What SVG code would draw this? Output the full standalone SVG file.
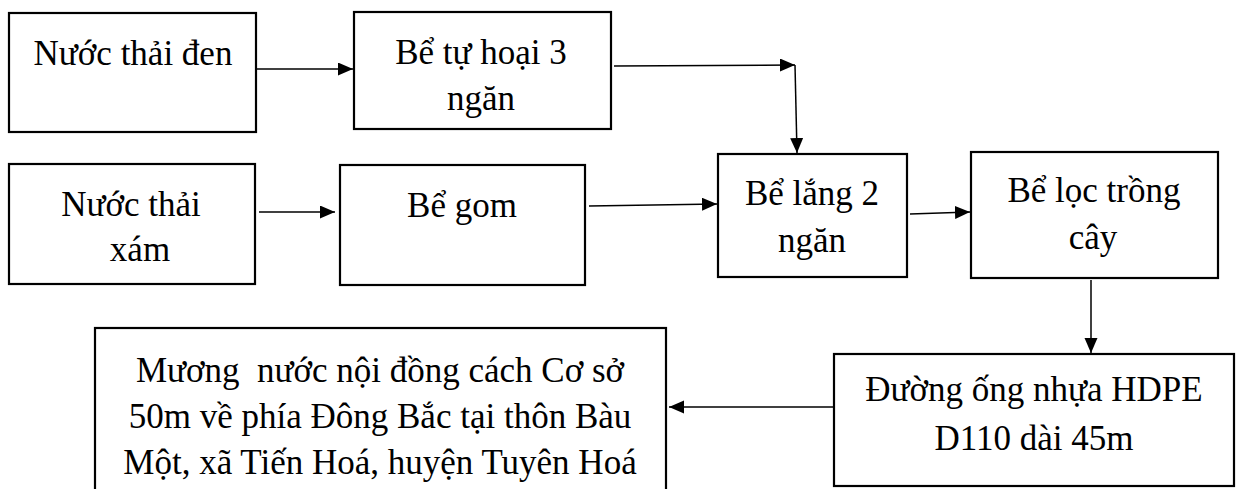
<svg xmlns="http://www.w3.org/2000/svg" width="1239" height="489" viewBox="0 0 1239 489">
<style>
.box{fill:#fff;stroke:#000;stroke-width:2.2}
.t{font-size:35px;fill:#000;text-anchor:middle}
.c{stroke:#000;stroke-width:1.5;fill:none;marker-end:url(#ah)}
</style>
<defs>
<marker id="ah" markerUnits="userSpaceOnUse" markerWidth="16" markerHeight="14" refX="15" refY="6.5" orient="auto">
<path d="M0,0 L15,6.5 L0,13 z" fill="#000"/>
</marker>
</defs>
<rect width="1239" height="489" fill="#fff"/>
<g id="connectors">
<line class="c" x1="256" y1="69" x2="353" y2="69"/>
<line class="c" x1="614" y1="66" x2="795" y2="65"/>
<line class="c" x1="795" y1="65" x2="797" y2="153"/>
<line class="c" x1="259" y1="212" x2="335" y2="212"/>
<line class="c" x1="589" y1="206" x2="717" y2="204"/>
<line class="c" x1="910" y1="214" x2="970" y2="212"/>
<line class="c" x1="1091" y1="280" x2="1091" y2="353"/>
<line class="c" x1="833" y1="407" x2="669" y2="407"/>
</g>
<g font-family="'Liberation Serif', 'DejaVu Serif', serif">
<g id="n1"><rect class="box" x="9" y="13" width="247" height="119"/><text class="t" x="133" y="65">Nước thải đen</text></g>
<g id="n2"><rect class="box" x="354" y="12" width="257" height="117"/><text class="t" x="481" y="64">Bể tự hoại 3</text><text class="t" x="481" y="110">ngăn</text></g>
<g id="n3"><rect class="box" x="9" y="164" width="246" height="120"/><text class="t" x="131" y="216">Nước thải</text><text class="t" x="140" y="261">xám</text></g>
<g id="n4"><rect class="box" x="340" y="165" width="245" height="120"/><text class="t" x="462" y="217">Bể gom</text></g>
<g id="n5"><rect class="box" x="718" y="154" width="189" height="123"/><text class="t" x="812" y="205">Bể lắng 2</text><text class="t" x="812" y="252">ngăn</text></g>
<g id="n6"><rect class="box" x="971" y="152" width="247" height="126"/><text class="t" x="1094" y="202">Bể lọc trồng</text><text class="t" x="1093" y="249">cây</text></g>
<g id="n7"><rect class="box" x="834" y="354" width="400" height="132"/><text class="t" x="1034" y="401">Đường ống nhựa HDPE</text><text class="t" x="1034" y="450">D110 dài 45m</text></g>
<g id="n8"><rect class="box" x="95" y="328" width="571" height="200"/><text class="t" x="380" y="382" xml:space="preserve">Mương  nước nội đồng cách Cơ sở</text><text class="t" x="380" y="428">50m về phía Đông Bắc tại thôn Bàu</text><text class="t" x="380" y="474">Một, xã Tiến Hoá, huyện Tuyên Hoá</text></g>
</g>
</svg>
